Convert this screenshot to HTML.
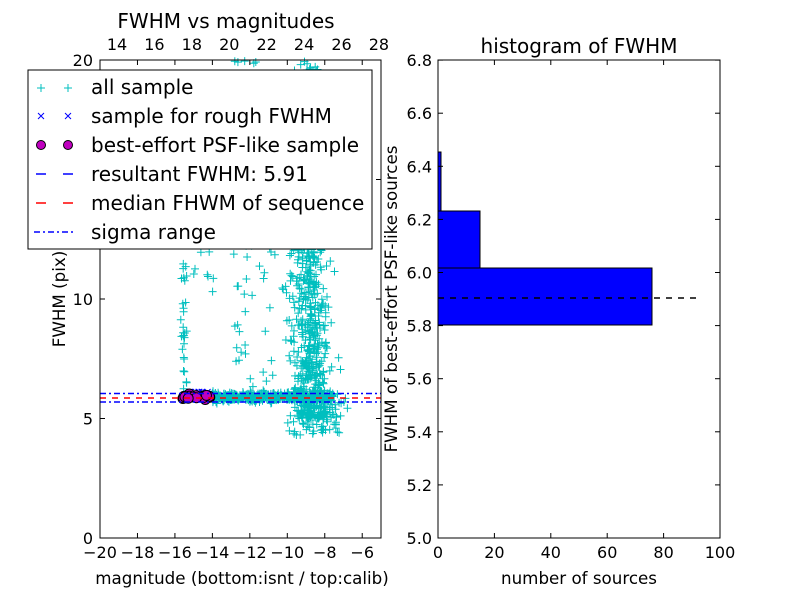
<!DOCTYPE html>
<html><head><meta charset="utf-8"><style>
body{margin:0;background:#fff;}
svg text{font-family:"DejaVu Sans","Liberation Sans",sans-serif;}
</style></head><body>
<svg id="s" width="800" height="600" xmlns="http://www.w3.org/2000/svg" font-size="16">
<rect width="800" height="600" fill="#fff"/>
<g id="pts"></g>
<line x1="100" y1="393.5" x2="381" y2="393.5" stroke="#0000ff" stroke-width="1.5" stroke-dasharray="6,3,2,3"/>
<line x1="100" y1="402" x2="381" y2="402" stroke="#0000ff" stroke-width="1.5" stroke-dasharray="6,3,2,3"/>
<line x1="100" y1="398" x2="381" y2="398" stroke="#ff0000" stroke-width="1.5" stroke-dasharray="6,6"/>
<rect x="100" y="60" width="281" height="478" fill="none" stroke="#000"/>
<g id="lt" stroke="#000"></g>
<g font-size="16.7" fill="#000">
<text x="226" y="28" text-anchor="middle" font-size="20">FWHM vs magnitudes</text>
<text x="242" y="584" text-anchor="middle">magnitude (bottom:isnt / top:calib)</text>
<text transform="translate(65,299) rotate(-90)" text-anchor="middle">FWHM (pix)</text>
</g>
<g id="ll"></g>
<rect x="28" y="70" width="344" height="179" fill="#fff" stroke="#000"/>
<g font-size="20">
<text x="91" y="94">all sample</text>
<text x="91" y="123">sample for rough FWHM</text>
<text x="91" y="152">best-effort PSF-like sample</text>
<text x="91" y="181">resultant FWHM: 5.91</text>
<text x="91" y="210">median FHWM of sequence</text>
<text x="91" y="239">sigma range</text>
</g>
<g stroke="#00bfbf" stroke-width="1"><path d="M41 84v8M37 88h8M68 84v8M64 88h8"/></g>
<g stroke="#0000ff" stroke-width="1"><path d="M38 113l6 6M44 113l-6 6M65 113l6 6M71 113l-6 6"/></g>
<circle cx="41" cy="145" r="4.5" fill="#bf00bf" stroke="#000"/><circle cx="68" cy="145" r="4.5" fill="#bf00bf" stroke="#000"/>
<path d="M36 174h10M63 174h10" stroke="#0000ff" stroke-width="1.5"/>
<path d="M36 203h10M63 203h10" stroke="#ff0000" stroke-width="1.5"/>
<path d="M34 232h6M43 232h2M48 232h6M57 232h2M62 232h6M71 232h2" stroke="#0000ff" stroke-width="1.5"/>
<rect x="438" y="268" width="214" height="57" fill="#0000ff" stroke="#000"/>
<rect x="438" y="211" width="42" height="57" fill="#0000ff" stroke="#000"/>
<rect x="438" y="152" width="3" height="59" fill="#0000ff" stroke="#000"/>
<line x1="438" y1="298" x2="697" y2="298" stroke="#000" stroke-width="1.5" stroke-dasharray="6,6"/>
<rect x="438" y="60" width="282" height="478" fill="none" stroke="#000"/>
<g id="rt" stroke="#000"></g>
<g id="rl"></g>
<text x="579" y="53" text-anchor="middle" font-size="20">histogram of FWHM</text>
<text x="579" y="584" text-anchor="middle" font-size="16.7">number of sources</text>
<text transform="translate(397,299) rotate(-90)" text-anchor="middle" font-size="16.7">FWHM of best-effort PSF-like sources</text>
</svg>
<script>
var NS="http://www.w3.org/2000/svg";
function el(p,t,a,txt){var e=document.createElementNS(NS,t);for(var k in a)e.setAttribute(k,a[k]);if(txt!==undefined)e.textContent=txt;document.getElementById(p).appendChild(e);}
var seed=7;function r(){seed=(seed*16807)%2147483647;return (seed-1)/2147483646;}
function g(){return (r()+r()+r()+r()-2)*1.7;}
function X(m){return 100+(m+20)*18.73;}function Y(f){return 538-f*23.9;}
var P=[];
for(var i=0;i<500;i++){P.push([-14+r()*6.5,5.9+g()*0.1]);}
for(var i=0;i<750;i++){var f=5+Math.pow(r(),1.5)*15;P.push([-8.7+g()*0.5-(f-6)*0.03,f]);}
for(var i=0;i<80;i++){P.push([-8.3+g()*0.8,4.3+r()*1.6]);}
for(var i=0;i<140;i++){P.push([-13+r()*5,6+r()*14]);}
for(var i=0;i<30;i++){P.push([-15.5+g()*0.1,6+r()*6]);}
for(var i=0;i<10;i++){P.push([-15+r()*1.5,10+r()*3]);}
var d="";P.forEach(function(p){var x=X(p[0]),y=Y(p[1]);if(x<101||x>380||y<61||y>537)return;d+="M"+(x-4).toFixed(1)+" "+y.toFixed(1)+"h8M"+x.toFixed(1)+" "+(y-4).toFixed(1)+"v8";});
el("pts","path",{d:d,stroke:"#00bfbf","stroke-width":1,fill:"none"});
var dd="";for(var i=0;i<8;i++){var x=X(-15.3+r()*1.2);dd+="M"+(x-3)+" 389l6 6M"+(x+3)+" 389l-6 6";}
el("pts","path",{d:dd,stroke:"#0000ff","stroke-width":1});
for(var i=0;i<22;i++){el("pts","circle",{cx:X(-15.6+r()*1.6),cy:Y(5.9+g()*0.05),r:5,fill:"#bf00bf",stroke:"#000"});}
for(var m=-20;m<=-6;m+=2){var x=X(m);el("lt","line",{x1:x,y1:538,x2:x,y2:533});el("lt","line",{x1:x,y1:60,x2:x,y2:65});el("ll","text",{x:x,y:558,"text-anchor":"middle"},(m<0?"\u2212":"")+Math.abs(m));}
for(var t=14;t<=28;t+=2){var x=117+(t-14)*18.71;el("ll","text",{x:x,y:50,"text-anchor":"middle"},t);}
for(var f=0;f<=20;f+=5){var y=Y(f);el("lt","line",{x1:100,y1:y,x2:105,y2:y});el("lt","line",{x1:381,y1:y,x2:376,y2:y});el("ll","text",{x:93,y:y+6,"text-anchor":"end"},f);}
for(var n=0;n<=100;n+=20){var x=438+n*2.82;el("rt","line",{x1:x,y1:538,x2:x,y2:533});el("rt","line",{x1:x,y1:60,x2:x,y2:65});el("rl","text",{x:x,y:558,"text-anchor":"middle"},n);}
for(var k=0;k<=9;k++){var v=5+k*0.2,y=538-k*53.1;el("rt","line",{x1:438,y1:y,x2:443,y2:y});el("rt","line",{x1:720,y1:y,x2:715,y2:y});el("rl","text",{x:432,y:y+6,"text-anchor":"end"},v.toFixed(1));}
</script>
</body></html>
